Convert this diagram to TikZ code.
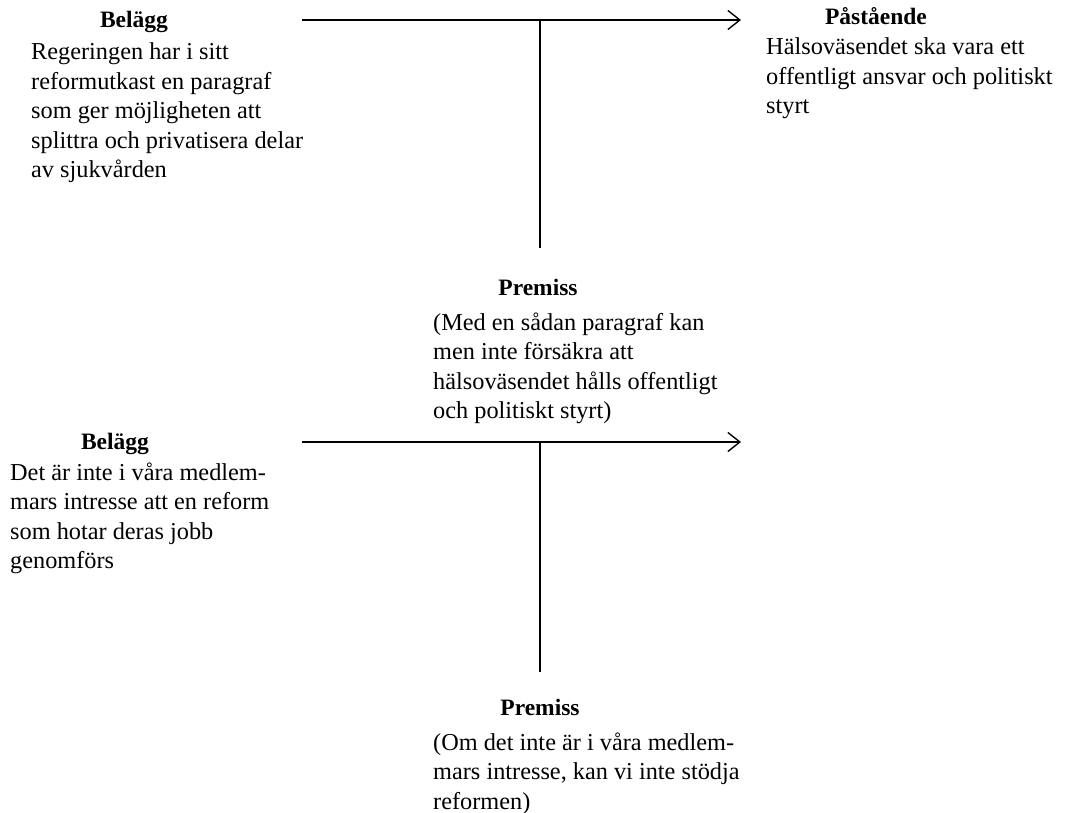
\documentclass[tikz,border=0pt]{standalone}
\usepackage{fontspec}
\setmainfont{Liberation Serif}
\usetikzlibrary{arrows.meta}
\begin{document}
\begin{tikzpicture}[x=1pt,y=-1pt,
  title/.style={font=\fontsize{23.5}{29.5}\selectfont\bfseries, anchor=base, inner sep=0pt},
  % multi-line texts are placed by the baseline of their last line
  body/.style={font=\fontsize{24.3}{29.5}\selectfont, align=left, anchor=base west, inner sep=0pt},
  link/.style={line width=1.4pt},
  claim/.style={link, -{Straight Barb[length=12pt,width=19pt,line width=1.4pt]}}]
\useasboundingbox (0,0) rectangle (1068,813);

% first argument: evidence, claim and warrant
\node[title] (bel1) at (134,28) {Belägg};
\node[body] (bel1txt) at (31,178) {Regeringen har i sitt\\reformutkast en paragraf\\som ger möjligheten att\\splittra och privatisera delar\\av sjukvården};
\node[title] (pa) at (876,25) {Påstående};
\node[body] (patxt) at (766,114) {Hälsoväsendet ska vara ett\\offentligt ansvar och politiskt\\styrt};
\node[title] (pre1) at (538,295) {Premiss};
\node[body] (pre1txt) at (433,418.5) {(Med en sådan paragraf kan\\men inte försäkra att\\hälsoväsendet hålls offentligt\\och politiskt styrt)};

\coordinate (a1s) at (302,20);
\coordinate (a1e) at (741,20);
\coordinate (j1) at (540,20);
\coordinate (v1) at (540,248);
\draw[claim] (a1s) -- (a1e);
\draw[link] (j1) -- (v1);

% second argument
\node[title] (bel2) at (115,449) {Belägg};
\node[body] (bel2txt) at (10,568.5) {Det är inte i våra medlem-\\mars intresse att en reform\\som hotar deras jobb\\genomförs};
\node[title] (pre2) at (540,715) {Premiss};
\node[body] (pre2txt) at (433,809) {(Om det inte är i våra medlem-\\mars intresse, kan vi inte stödja\\reformen)};

\coordinate (a2s) at (302,442);
\coordinate (a2e) at (741,442);
\coordinate (j2) at (540,442);
\coordinate (v2) at (540,672);
\draw[claim] (a2s) -- (a2e);
\draw[link] (j2) -- (v2);
\end{tikzpicture}
\end{document}
